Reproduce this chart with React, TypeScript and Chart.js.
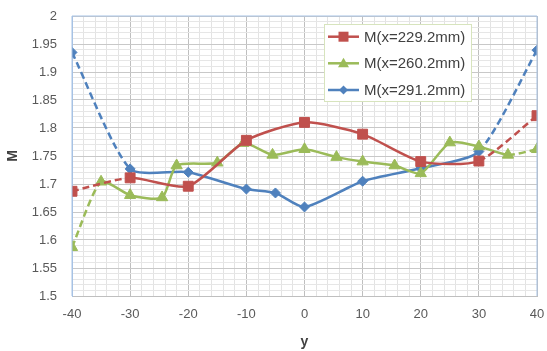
import React, { useEffect, useRef } from "react";
import { Chart, registerables } from "chart.js";

Chart.register(...registerables);

// Measurement positions (y) and Mach number M for each streamwise station
const yRed = [-40, -30, -20, -10, 0, 10, 20, 30, 40];
const mRed = [1.687, 1.711, 1.696, 1.778, 1.81, 1.789, 1.74, 1.741, 1.822];

const yGreen = [-40, -35, -30, -24.5, -22, -15, -10.5, -5.5, 0, 5.5, 10, 15.5, 20, 25, 30, 35, 40];
const mGreen = [1.587, 1.704, 1.68, 1.676, 1.733, 1.738, 1.773, 1.752, 1.762, 1.748, 1.74, 1.733, 1.719, 1.774, 1.767, 1.752, 1.762];

const yBlue = [-40, -30, -20, -10, -5, 0, 10, 20, 30, 40];
const mBlue = [1.935, 1.727, 1.721, 1.691, 1.684, 1.659, 1.705, 1.728, 1.758, 1.939];

// Segments (by starting index) drawn dashed
const dashRed = [0, 7];
const dashGreen = [0, 15];
const dashBlue = [0, 8];

const seriesLabels = ["M(x=229.2mm)", "M(x=260.2mm)", "M(x=291.2mm)"];
const xTickLabels = ["-40", "-30", "-20", "-10", "0", "10", "20", "30", "40"];

const RED = "#C0504D";
const GREEN = "#9BBB59";
const BLUE = "#4F81BD";
const FONT = "'Liberation Sans', Arial, sans-serif";

function pts(xs: number[], ys: number[]) {
  return xs.map((x, i) => ({ x, y: ys[i] }));
}

function drawMarker(ctx: CanvasRenderingContext2D, kind: string, x: number, y: number, color: string) {
  ctx.save();
  ctx.fillStyle = color;
  ctx.beginPath();
  if (kind === "rect") {
    ctx.rect(x - 5, y - 5, 10, 10);
  } else if (kind === "triangle") {
    ctx.moveTo(x, y - 5.5);
    ctx.lineTo(x + 5.5, y + 4);
    ctx.lineTo(x - 5.5, y + 4);
    ctx.closePath();
  } else {
    ctx.moveTo(x, y - 4.5);
    ctx.lineTo(x + 4.5, y);
    ctx.lineTo(x, y + 4.5);
    ctx.lineTo(x - 4.5, y);
    ctx.closePath();
  }
  ctx.fill();
  ctx.restore();
}

const framePlugin = {
  id: "frame",
  afterDatasetsDraw(chart: any) {
    const { ctx, chartArea } = chart;
    const { left, right, top, bottom } = chartArea;
    ctx.save();
    ctx.strokeStyle = "#A7C2E4";
    ctx.lineWidth = 1;
    ctx.beginPath();
    ctx.moveTo(left, bottom);
    ctx.lineTo(left, top);
    ctx.lineTo(right, top);
    ctx.lineTo(right, bottom);
    ctx.stroke();

    // legend box
    const bx = 324.5, by = 24.5, bw = 147, bh = 77;
    ctx.fillStyle = "#ffffff";
    ctx.fillRect(bx, by, bw, bh);
    ctx.strokeStyle = "#D7E4BD";
    ctx.strokeRect(bx, by, bw, bh);
    const colors = [RED, GREEN, BLUE];
    const kinds = ["rect", "triangle", "rectRot"];
    const rows = [36.7, 63.3, 90];
    ctx.font = `15px ${FONT}`;
    ctx.textBaseline = "middle";
    ctx.textAlign = "left";
    rows.forEach((ry, i) => {
      ctx.strokeStyle = colors[i];
      ctx.lineWidth = 2.5;
      ctx.beginPath();
      ctx.moveTo(328, ry);
      ctx.lineTo(359, ry);
      ctx.stroke();
      drawMarker(ctx, kinds[i], 343.5, ry, colors[i]);
      ctx.fillStyle = "#404040";
      ctx.fillText(seriesLabels[i], 364, ry + 1);
    });
    ctx.restore();
  },
};

function isMultiple(v: number, step: number) {
  const r = v / step;
  return Math.abs(r - Math.round(r)) < 1e-6;
}

export default function App() {
  const ref = useRef<HTMLCanvasElement | null>(null);

  useEffect(() => {
    if (!ref.current) return;
    const line = (label: string, xs: number[], ys: number[], color: string, style: string, radius: number, dashed: number[]) => ({
      label,
      data: pts(xs, ys),
      borderColor: color,
      backgroundColor: color,
      borderWidth: 2.5,
      pointStyle: style,
      pointRadius: radius,
      pointBorderWidth: 1,
      pointBackgroundColor: color,
      pointBorderColor: color,
      tension: 0.22,
      segment: {
        borderDash: (c: any) => (dashed.includes(c.p0DataIndex) ? [7, 4] : undefined),
      },
    });

    const chart = new Chart(ref.current, {
      type: "scatter",
      data: {
        datasets: [
          line(seriesLabels[0], yRed, mRed, RED, "rect", 7, dashRed),
          line(seriesLabels[1], yGreen, mGreen, GREEN, "triangle", 6.5, dashGreen),
          line(seriesLabels[2], yBlue, mBlue, BLUE, "rectRot", 5, dashBlue),
        ] as any,
      },
      options: {
        animation: false,
        responsive: false,
        showLine: true,
        layout: { padding: { top: 16, right: 10, left: 0, bottom: 0 } },
        plugins: { legend: { display: false }, tooltip: { enabled: false } },
        scales: {
          x: {
            type: "linear",
            min: -40,
            max: 40,
            afterFit: (s: any) => {
              s.height = 55;
              s.paddingLeft = 0;
              s.paddingRight = 0;
            },
            ticks: {
              stepSize: 2,
              autoSkip: false,
              maxRotation: 0,
              padding: 11,
              color: "#595959",
              font: { family: FONT, size: 13 },
              callback: (v: any) => {
                const n = Number(v);
                if (!isMultiple(n, 10)) return "";
                return xTickLabels[Math.round((n + 40) / 10)];
              },
            },
            grid: {
              drawTicks: false,
              color: (c: any) => (c.tick && isMultiple(c.tick.value, 10) ? "#BFBFBF" : "#E3E3E3"),
              lineWidth: 1,
            },
            border: { display: true, color: "#BFBFBF" },
            title: {
              display: true,
              text: "y",
              color: "#404040",
              font: { family: FONT, size: 14, weight: "bold" },
              padding: { top: 0, bottom: 0 },
            },
          },
          y: {
            type: "linear",
            min: 1.5,
            max: 2,
            afterFit: (s: any) => {
              s.width = 72;
              s.paddingTop = 0;
              s.paddingBottom = 0;
            },
            ticks: {
              stepSize: 0.01,
              autoSkip: false,
              padding: 15,
              color: "#595959",
              font: { family: FONT, size: 13 },
              callback: (v: any) => {
                const n = Number(v);
                if (!isMultiple(n, 0.05)) return "";
                return String(Number(n.toFixed(2)));
              },
            },
            grid: {
              drawTicks: false,
              color: (c: any) => (c.tick && isMultiple(c.tick.value, 0.05) ? "#C8C8C8" : "#E6E6E6"),
              lineWidth: 1,
            },
            border: { display: true, color: "#A7C2E4" },
            title: {
              display: true,
              text: "M",
              color: "#404040",
              font: { family: FONT, size: 14, weight: "bold" },
              padding: { top: 5, bottom: 0 },
            },
          },
        },
      },
      plugins: [framePlugin],
    } as any);
    return () => chart.destroy();
  }, []);

  return (
    <div style={{ position: "fixed", left: 0, top: 0, width: 547, height: 351, background: "#fff" }}>
      <canvas ref={ref} width={547} height={351} style={{ display: "block" }} />
    </div>
  );
}
